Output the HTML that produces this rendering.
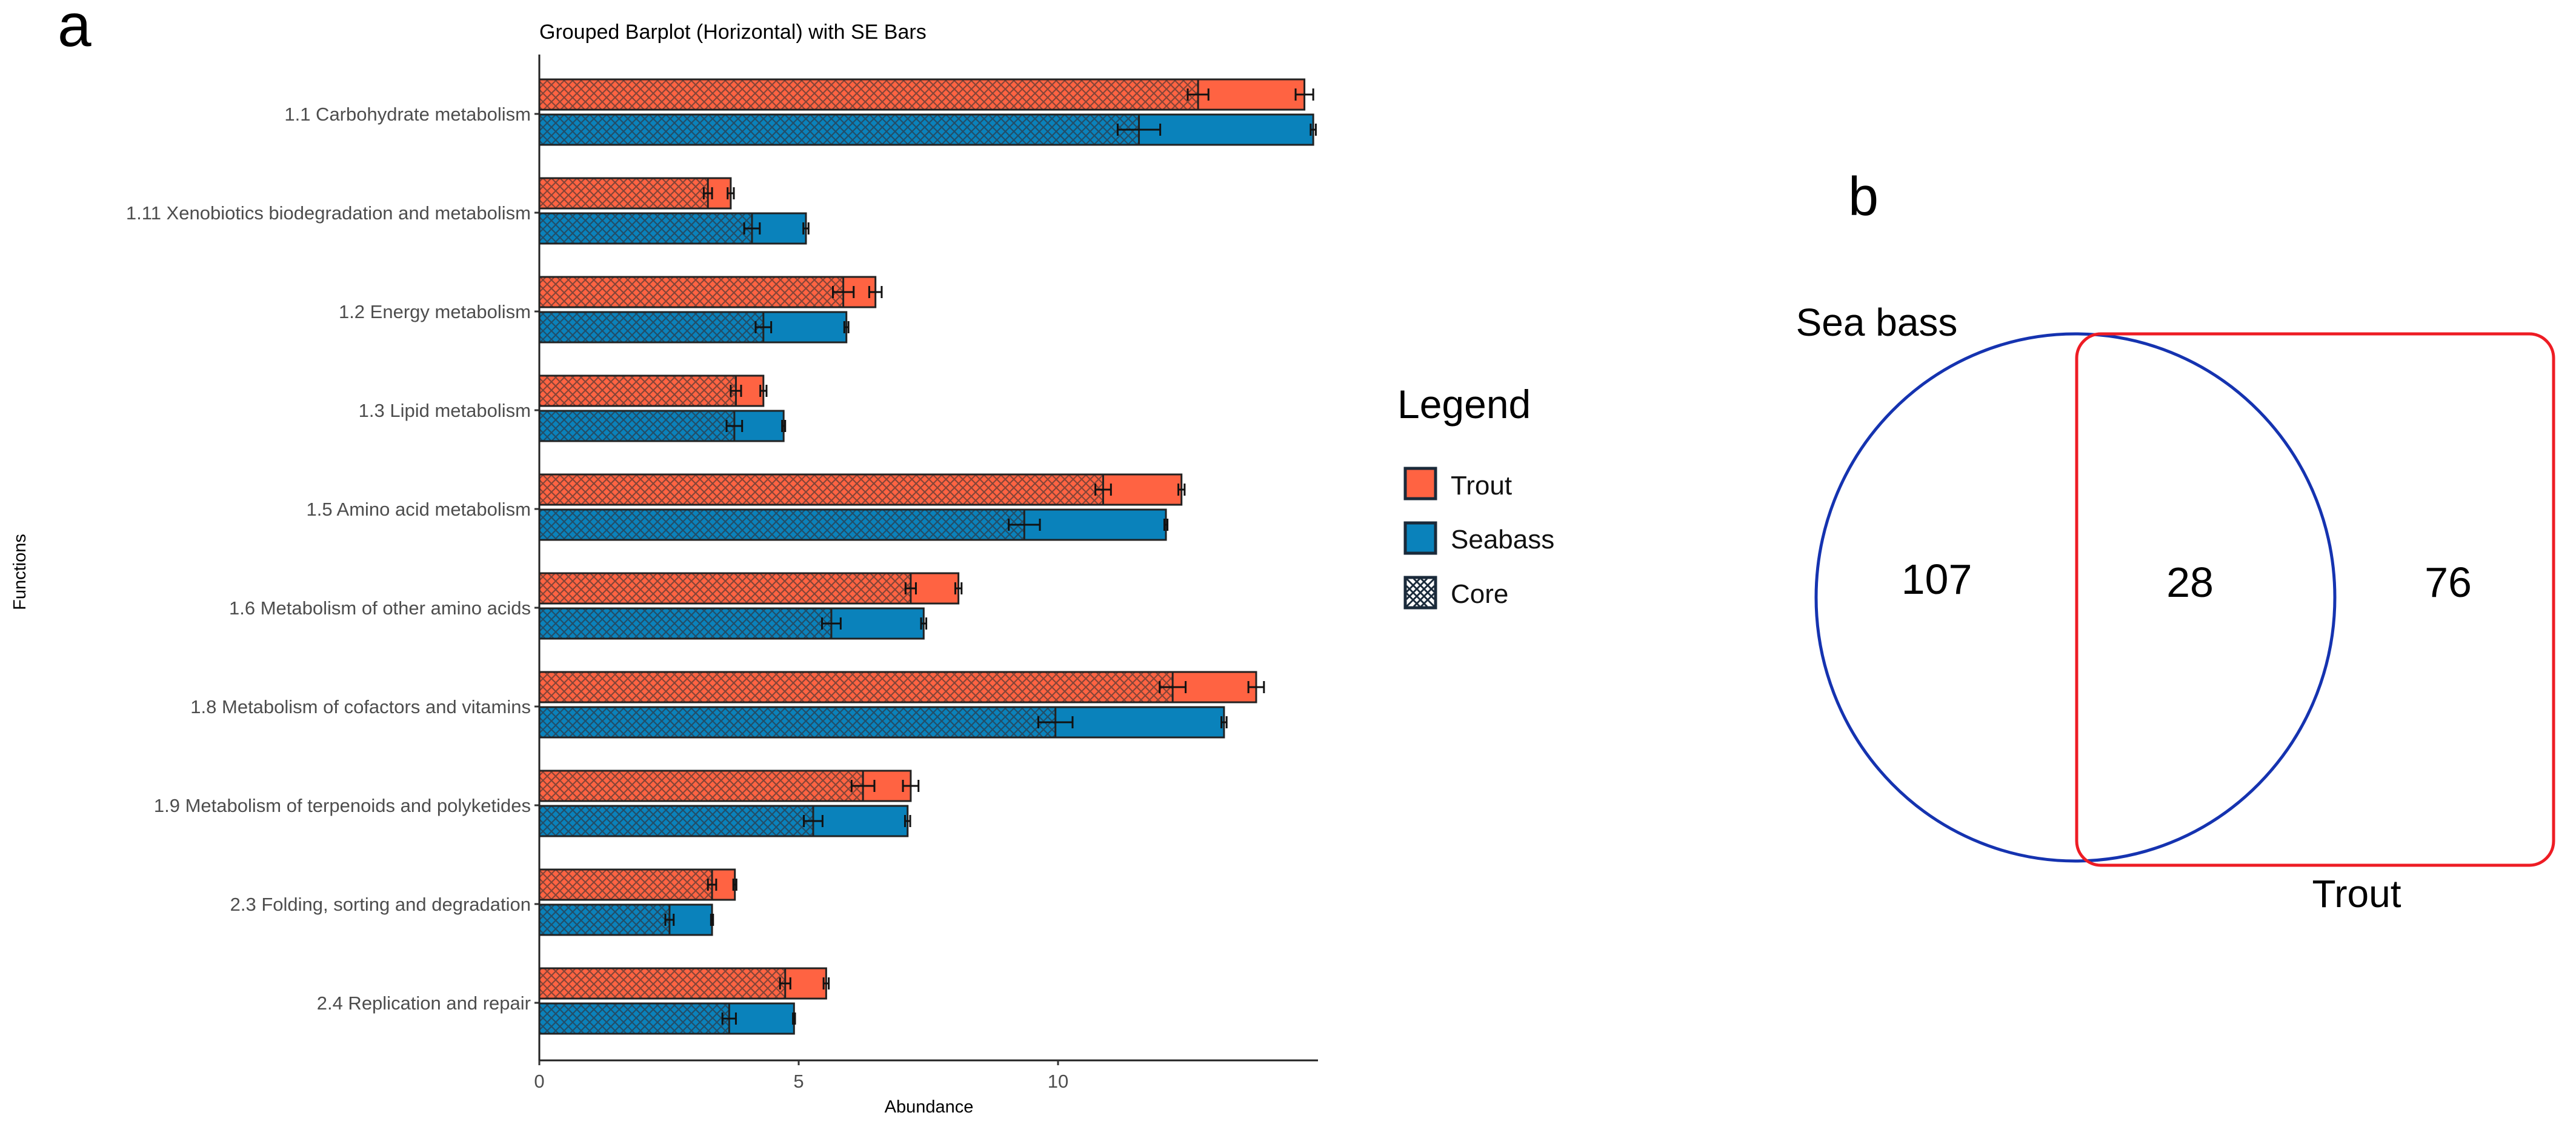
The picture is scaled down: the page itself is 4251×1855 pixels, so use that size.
<!DOCTYPE html>
<html><head><meta charset="utf-8"><style>
html,body{margin:0;padding:0;background:#fff;}
svg{display:block;font-family:"Liberation Sans",sans-serif;}
</style></head><body>
<svg id="chart" width="4251" height="1855" viewBox="0 0 4251 1855" xmlns="http://www.w3.org/2000/svg">
<defs>
<pattern id="hatchT" patternUnits="userSpaceOnUse" width="14" height="14">
<rect width="14" height="14" fill="#ff6342"/>
<path d="M0,0 L14,14 M14,0 L0,14" stroke="#5a3a33" stroke-width="2.2" opacity="0.75"/>
</pattern>
<pattern id="hatchS" patternUnits="userSpaceOnUse" width="14" height="14">
<rect width="14" height="14" fill="#0a82bb"/>
<path d="M0,0 L14,14 M14,0 L0,14" stroke="#2a3a4a" stroke-width="2.2" opacity="0.75"/>
</pattern>
</defs>
<text x="95" y="76" font-size="100" fill="#000">a</text>
<text x="890" y="64" font-size="34" fill="#000">Grouped Barplot (Horizontal) with SE Bars</text>
<text transform="translate(42,944) rotate(-90)" text-anchor="middle" font-size="29" fill="#000">Functions</text>
<text x="1533" y="1836" text-anchor="middle" font-size="29" fill="#000">Abundance</text>
<g id="plot"></g>

<text x="2306" y="690" font-size="66" fill="#000">Legend</text>
<g>
<rect x="2319" y="773" width="50" height="50" fill="#ff6342" stroke="#1a2a3a" stroke-width="5"/>
<text x="2394" y="816" font-size="44" fill="#111">Trout</text></g>
<g>
<rect x="2319" y="863" width="50" height="50" fill="#0a82bb" stroke="#1a2a3a" stroke-width="5"/>
<text x="2394" y="905" font-size="44" fill="#111">Seabass</text></g>
<g>
<rect x="2319" y="953" width="50" height="50" fill="#fff" stroke="#1a2a3a" stroke-width="5"/>
<path d="M2321,955 L2367,1001 M2333,955 L2367,989 M2345,955 L2367,977 M2321,967 L2355,1001 M2321,979 L2343,1001 M2367,955 L2321,1001 M2355,955 L2321,989 M2343,955 L2321,977 M2367,967 L2333,1001 M2367,979 L2345,1001" stroke="#1a2a3a" stroke-width="3"/>
<text x="2394" y="995" font-size="44" fill="#111">Core</text></g>

<text x="3075" y="355" font-size="90" text-anchor="middle" fill="#000">b</text>
<ellipse cx="3425" cy="986" rx="428" ry="435" fill="none" stroke="#1533b0" stroke-width="5"/>
<rect x="3427" y="551" width="787" height="877" rx="40" fill="none" stroke="#ee1c24" stroke-width="5"/>
<text x="3097" y="554" font-size="64" text-anchor="middle" fill="#000">Sea bass</text>
<text x="3889" y="1497" font-size="64" text-anchor="middle" fill="#000">Trout</text>
<text x="3196" y="980" font-size="70" text-anchor="middle" fill="#000">107</text>
<text x="3614" y="985" font-size="70" text-anchor="middle" fill="#000">28</text>
<text x="4040" y="985" font-size="70" text-anchor="middle" fill="#000">76</text>
</svg>
<script>
const categories=["1.1 Carbohydrate metabolism","1.11 Xenobiotics biodegradation and metabolism","1.2 Energy metabolism","1.3 Lipid metabolism","1.5 Amino acid metabolism","1.6 Metabolism of other amino acids","1.8 Metabolism of cofactors and vitamins","1.9 Metabolism of terpenoids and polyketides","2.3 Folding, sorting and degradation","2.4 Replication and repair"];
const troutVals=[14.75,3.69,6.48,4.32,12.38,8.08,13.82,7.16,3.77,5.53];
const troutSE=[0.17,0.06,0.12,0.06,0.06,0.06,0.15,0.15,0.03,0.05];
const troutCore=[12.70,3.25,5.86,3.79,10.87,7.16,12.21,6.24,3.33,4.74];
const troutCoreSE=[0.2,0.08,0.2,0.1,0.15,0.1,0.25,0.22,0.08,0.1];
const seaVals=[14.92,5.14,5.92,4.71,12.08,7.41,13.20,7.10,3.33,4.91];
const seaSE=[0.05,0.05,0.04,0.03,0.03,0.05,0.05,0.05,0.02,0.02];
const seaCore=[11.56,4.10,4.32,3.76,9.35,5.63,9.95,5.28,2.51,3.66];
const seaCoreSE=[0.41,0.15,0.15,0.15,0.3,0.18,0.33,0.18,0.08,0.13];
const xTicks=[0,5,10];

const NS="http://www.w3.org/2000/svg";
const plot=document.getElementById('plot');
const X0=890,PX=85.6,Y0=188,STEP=163.0,BH=50;
const xs=v=>X0+v*PX;
const yc=i=>Y0+i*STEP;
function mk(tag,attrs){const e=document.createElementNS(NS,tag);for(const k in attrs)e.setAttribute(k,attrs[k]);plot.appendChild(e);return e;}
function errbar(v,se,cy){
  const g=mk('path',{d:`M${xs(v-se)},${cy} H${xs(v+se)} M${xs(v-se)},${cy-10} V${cy+10} M${xs(v+se)},${cy-10} V${cy+10}`,stroke:'#111','stroke-width':3,fill:'none'});
  
  
}
categories.forEach((c,i)=>{
  const cy=yc(i);
  const rows=[{v:troutVals[i],se:troutSE[i],cv:troutCore[i],cse:troutCoreSE[i],col:'#ff6342',pat:'url(#hatchT)',top:cy-57,n:'trout'},
              {v:seaVals[i],se:seaSE[i],cv:seaCore[i],cse:seaCoreSE[i],col:'#0a82bb',pat:'url(#hatchS)',top:cy+1,n:'seabass'}];
  rows.forEach(r=>{
    const b=mk('rect',{x:X0,y:r.top,width:xs(r.v)-X0,height:BH,fill:r.col,stroke:'#222','stroke-width':3});
    
    
    const cb=mk('rect',{x:X0,y:r.top,width:xs(r.cv)-X0,height:BH,fill:r.pat,stroke:'#222','stroke-width':3});
    
    
    errbar(r.v,r.se,r.top+BH/2);
    errbar(r.cv,r.cse,r.top+BH/2);
  });
  const t=mk('text',{x:X0-14,y:cy+11,'text-anchor':'end','font-size':31,fill:'#4d4d4d'});
  t.textContent=c;
  
  
  const tk=mk('line',{x1:X0-8,x2:X0,y1:cy,y2:cy,stroke:'#333','stroke-width':3});
  
  
});
const ya=mk('line',{x1:X0,x2:X0,y1:90,y2:1751,stroke:'#222','stroke-width':3});


const xa=mk('line',{x1:X0-1,x2:2175,y1:1750,y2:1750,stroke:'#222','stroke-width':3});


xTicks.forEach(v=>{
  const tk=mk('line',{x1:xs(v),x2:xs(v),y1:1750,y2:1758,stroke:'#333','stroke-width':3});
  
  
  const t=mk('text',{x:xs(v),y:1795,'text-anchor':'middle','font-size':31,fill:'#4d4d4d'});
  t.textContent=v;
  
  
});
</script>
</body></html>
